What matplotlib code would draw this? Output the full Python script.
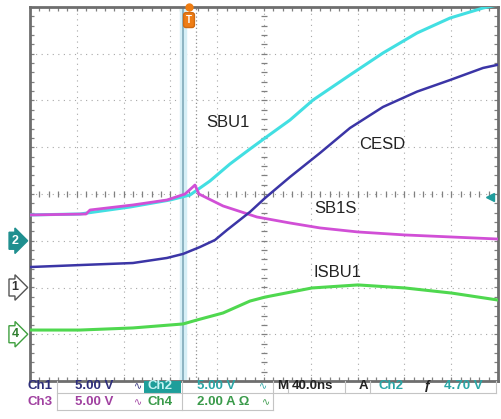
import numpy as np
import matplotlib.pyplot as plt
from matplotlib.patches import Rectangle

plt.rcParams['font.family'] = ['Liberation Sans', 'DejaVu Sans']

# time in ns from screen centre (40 ns/div)
t_sbu1 = [-200, -157.3, -114.5, -80.3, -63.2, -46.2, -29.1, -12.0, 0.9, 22.2, 41.9, 73.5, 101.7, 130.8, 159.0, 187.2, 199.1]
v_sbu1 = [2.76, 2.86, 3.61, 4.36, 4.90, 6.39, 8.21, 9.81, 10.99, 12.91, 15.05, 17.73, 20.08, 22.22, 23.82, 24.89, 25.2]

t_sb1s = [-200, -152.1, -148.7, -111.9, -82.9, -67.5, -59.0, -55.6, -35.0, -6.0, 22.2, 47.9, 80.3, 120.5, 160.7, 199.1]
v_sb1s = [2.76, 2.86, 3.29, 3.83, 4.36, 5.0, 5.96, 5.0, 3.72, 2.54, 1.9, 1.37, 0.94, 0.62, 0.4, 0.19]

t_cesd = [-200, -157.3, -112.0, -82.9, -69.2, -54.7, -41.9, -31.6, -12.0, 0.9, 22.2, 47.9, 73.5, 101.7, 130.8, 159.0, 187.2, 199.1]
v_cesd = [2.19, 2.40, 2.62, 3.16, 3.59, 4.33, 5.08, 6.15, 8.08, 9.57, 11.82, 14.39, 17.06, 19.31, 20.95, 22.19, 23.48, 23.80]

t_isbu1 = [-200, -157.3, -112.0, -69.2, -57.3, -35.0, -12.0, 0.9, 41.0, 80.3, 120.5, 160.7, 199.1]
a_isbu1 = [0.18, 0.18, 0.27, 0.44, 0.61, 0.91, 1.42, 1.59, 1.98, 2.11, 1.98, 1.76, 1.47]

# channel settings: (volts or amps per div, ground position in div)
ch1 = (5.0, -2)
ch2 = (5.0, -1)
ch3 = (5.0, -1)
ch4 = (2.0, -3)
trig_level = 4.70
t_trig = -64.1
t_cursor = -69.2
t_cursor2 = -58.1


def to_div(vals, ch):
    return np.array(vals) / ch[0] + ch[1]


fig = plt.figure(figsize=(5.02, 4.19), dpi=100)
ax = fig.add_axes([30/502, 1-381/419, 468/502, 374/419])
ax.set_xlim(-200, 200)
ax.set_ylim(-4, 4)
ax.set_xticks([])
ax.set_yticks([])
for s in ax.spines.values():
    s.set_color('#6e6e6e')
    s.set_linewidth(2)

# graticule
gcol = '#a8a8a8'
for x in np.arange(-160, 200, 40):
    ax.axvline(x, color=gcol, lw=0.8, ls=(0, (1, 4)), zorder=1)
for y in np.arange(-3, 4, 1):
    ax.axhline(y, color=gcol, lw=0.8, ls=(0, (1, 4)), zorder=1)
xt = np.arange(-200, 201, 8)
yt = np.arange(-4, 4.01, 0.2)
ax.vlines(xt, -0.07, 0.07, color='#808080', lw=0.9, zorder=1)
ax.hlines(yt, -2.6, 2.6, color='#808080', lw=0.9, zorder=1)
ax.vlines(xt, 3.91, 4, color='#808080', lw=0.9, zorder=1)
ax.vlines(xt, -4, -3.91, color='#808080', lw=0.9, zorder=1)
ax.hlines(yt, -200, -196.5, color='#808080', lw=0.9, zorder=1)
ax.hlines(yt, 196.5, 200, color='#808080', lw=0.9, zorder=1)

# trigger cursors
ax.axvspan(t_cursor - 2.2, t_cursor + 2.2, color='#d6eff6', zorder=1)
ax.axvline(t_cursor, color='#8cb4c2', lw=1.4, zorder=2)
ax.axvline(t_cursor2, color='#909090', lw=0.9, ls=(0, (1, 2)), zorder=2)

# traces
ax.plot(t_sbu1, to_div(v_sbu1, ch2), color='#42dfe2', lw=2.2, zorder=3)
ax.plot(t_sb1s, to_div(v_sb1s, ch3), color='#d14fd6', lw=2.0, zorder=4)
ax.plot(t_cesd, to_div(v_cesd, ch1), color='#3b35a6', lw=1.8, zorder=5)
ax.plot(t_isbu1, to_div(a_isbu1, ch4), color='#4fd84f', lw=2.2, zorder=5)

ax.text(-30.8, 1.52, 'SBU1', fontsize=12, ha='center', va='center', color='#222222')
ax.text(100.9, 1.05, 'CESD', fontsize=12, ha='center', va='center', color='#222222')
ax.text(60.7, -0.32, 'SB1S', fontsize=12, ha='center', va='center', color='#222222')
ax.text(62.4, -1.67, 'ISBU1', fontsize=12, ha='center', va='center', color='#222222')

# trigger markers
ax.plot(t_trig, 4, 'o', color='#f07d12', ms=5, clip_on=False, zorder=6)
ax.text(t_trig, 3.72, 'T', fontsize=7, color='white', ha='center', va='center', weight='bold',
        bbox=dict(boxstyle='round,pad=0.25', fc='#ee7d15', ec='#d06a10'), zorder=6)
ax.plot(193.5, trig_level / ch2[0] + ch2[1], '<', color='#1f9c9c', ms=6, clip_on=False, zorder=6)

# ground markers on the left
def gnd_marker(ch, label, fc, ec, tc):
    y = 1 - (194 - ch[1] * 46.75) / 419
    fig.text(15/502, y, label, fontsize=9, color=tc, ha='center', va='center', weight='bold',
             bbox=dict(boxstyle='rarrow,pad=0.2', fc=fc, ec=ec, lw=1))

gnd_marker(ch2, '2', '#1f8f8f', '#1f8f8f', 'white')
gnd_marker(ch1, '1', 'white', '#555555', '#333333')
gnd_marker(ch4, '4', 'white', '#3fa03f', '#2f7f2f')

# readout
def px(x, y):
    return x / 502, 1 - y / 419

lc = '#c4c4c4'
for x0, y0, y1 in [(57, 381, 410), (182, 381, 410), (273, 381, 410), (288, 381, 393),
                   (345, 381, 393), (370, 381, 393), (496, 381, 393)]:
    fig.add_artist(plt.Line2D([x0/502, x0/502], [1-y0/419, 1-y1/419], color=lc, lw=0.8))
fig.add_artist(plt.Line2D([57/502, 496/502], [1-393/419, 1-393/419], color=lc, lw=0.8))
fig.add_artist(plt.Line2D([57/502, 273/502], [1-410/419, 1-410/419], color=lc, lw=0.8))
fig.add_artist(Rectangle(px(144, 393), 37/502, 12/419, fc='#1e9e9a', ec='none'))

fs = 9.5
c1, c2, c3, c4 = '#2e2e7a', '#2aa6a6', '#a040a0', '#3a9a4a'
row1, row2 = 386, 402
items = [
    (28, row1, 'Ch1', c1), (75, row1, '5.00 V', c1),
    (147, row1, 'Ch2', '#c8f4f4'), (197, row1, '5.00 V', c2),
    (277, row1, 'M', '#222222'), (292, row1, '40.0ns', '#222222'), (359, row1, 'A', '#222222'),
    (379, row1, 'Ch2', c2), (424, row1, 'ƒ', '#222222'), (444, row1, '4.70 V', c2),
    (28, row2, 'Ch3', c3), (75, row2, '5.00 V', c3),
    (147, row2, 'Ch4', c4), (197, row2, '2.00 A Ω', c4),
]
for x, y, s, c in items:
    fig.text(x/502, 1 - y/419, s, fontsize=fs, color=c, ha='left', va='center', weight='bold')

# bandwidth symbols
for x, y, c in [(134, row1, c1), (259, row1, c2), (134, row2, c3), (262, row2, c4)]:
    fig.text(x/502, 1 - y/419, '∿', fontsize=7, color=c, ha='left', va='center')

fig.savefig('out.png', dpi=100)
